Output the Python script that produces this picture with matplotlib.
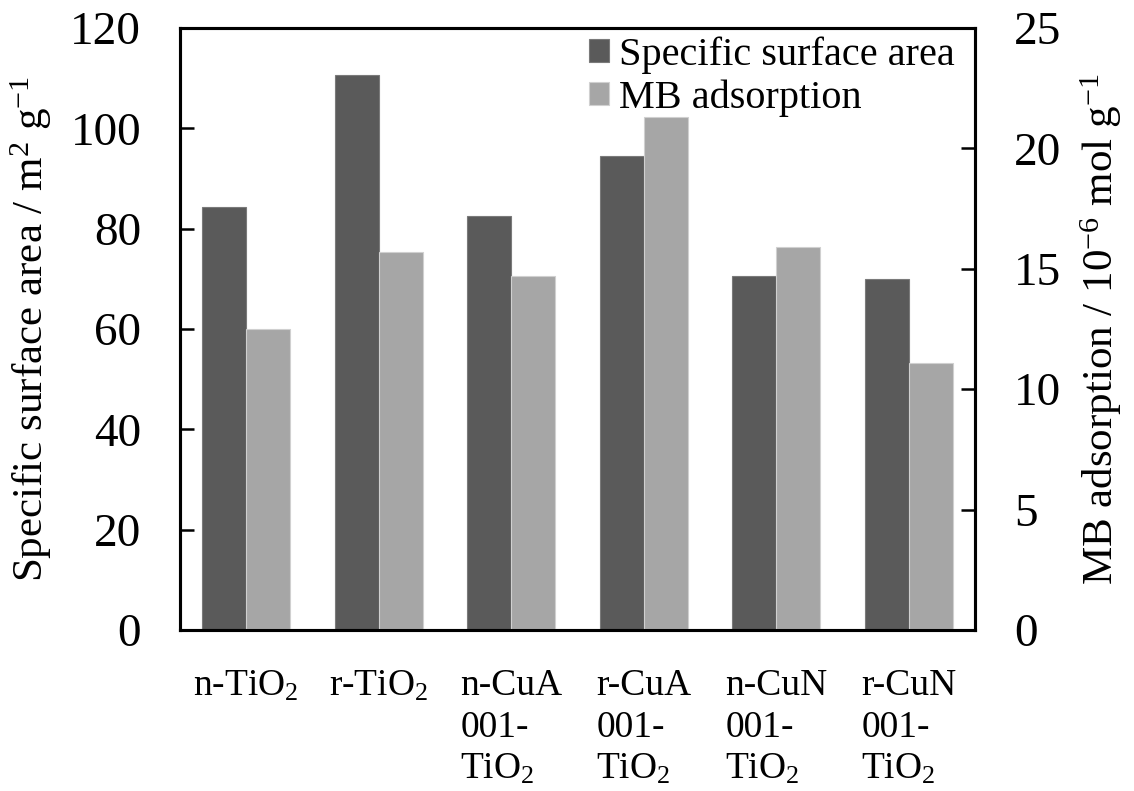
import numpy as np
import matplotlib
matplotlib.use("Agg")
import matplotlib.pyplot as plt

plt.rcParams['font.family'] = ['Liberation Serif', 'DejaVu Serif']
plt.rcParams['mathtext.fontset'] = 'custom'
plt.rcParams['mathtext.rm'] = 'Liberation Serif'
plt.rcParams['mathtext.it'] = 'Liberation Serif'

samples = ['n-TiO$_2$', 'r-TiO$_2$', 'n-CuA\n001-\nTiO$_2$', 'r-CuA\n001-\nTiO$_2$',
           'n-CuN\n001-\nTiO$_2$', 'r-CuN\n001-\nTiO$_2$']
surface_area = [84.3, 110.7, 82.5, 94.4, 70.5, 70.0]   # m2/g
mb_adsorption = [12.5, 15.7, 14.7, 21.3, 15.9, 11.1]  # 1e-6 mol/g

dark = '#5a5a5a'
light = '#a6a6a6'

fig = plt.figure(figsize=(11.34, 7.91), dpi=100)
ax = fig.add_axes([0.1587, 0.2035, 0.7011, 0.7611])
ax2 = ax.twinx()

x = np.arange(len(samples))
w = 0.332
b1 = ax.bar(x - w/2, surface_area, w, color=dark, edgecolor='#7a7a7a', linewidth=0.8,
            label='Specific surface area')
b2 = ax2.bar(x + w/2, mb_adsorption, w, color=light, edgecolor='#d0d0d0', linewidth=0.8,
             label='MB adsorption')

ax.set_xlim(-0.5, len(samples) - 0.5)
ax.set_ylim(0, 120)
ax.set_yticks(range(0, 121, 20))
ax2.set_ylim(0, 25)
ax2.set_yticks(range(0, 26, 5))

ax.set_xticks(x)
ax.set_xticklabels(samples, fontsize=27, ha='center', va='top', multialignment='left',
                   linespacing=1.27)
ax.tick_params(axis='x', length=0, pad=28)
ax.tick_params(axis='y', direction='in', length=10, width=1.8, labelsize=34, pad=28)
ax2.tick_params(axis='y', direction='in', length=10, width=1.8, labelsize=34, pad=28)

for a in (ax, ax2):
    for s in a.spines.values():
        s.set_linewidth(2.2)

ax.set_ylabel('Specific surface area / m$^2$ g$^{\\mathregular{-1}}$', fontsize=31, labelpad=12)
ax2.set_ylabel('MB adsorption / 10$^{\\mathregular{-6}}$ mol g$^{\\mathregular{-1}}$',
               fontsize=31, labelpad=12)

ax.legend([b1, b2], ['Specific surface area', 'MB adsorption'], loc='upper right',
          bbox_to_anchor=(1.0, 1.02), frameon=False, fontsize=29, handlelength=0.5,
          handleheight=0.5, handletextpad=0.25, labelspacing=0.15, borderaxespad=0.1)

fig.savefig('out.png', dpi=100)
